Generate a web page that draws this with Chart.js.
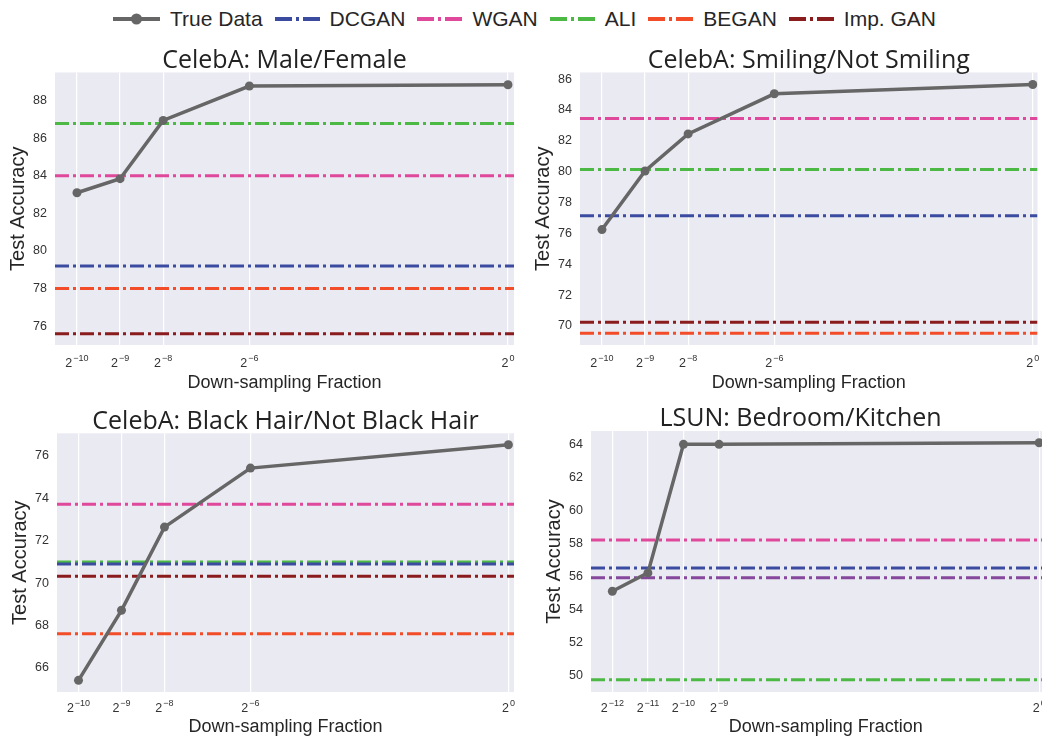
<!DOCTYPE html>
<html>
<head>
<meta charset="utf-8">
<script src="https://cdn.jsdelivr.net/npm/chart.js@4.4.1/dist/chart.umd.min.js"></script>
<style>
    body { margin: 0; width: 1042px; height: 736px; overflow: hidden; background: #fff; position: relative; font-family: 'Liberation Sans', Arial, sans-serif; }
    .panel { position: absolute; }
    #legend { position: absolute; left: 113px; top: 0; height: 38px; display: flex; align-items: center; font-size: 21px; color: #262626; white-space: nowrap; }
    #legend .item { display: flex; align-items: center; margin-right: 12px; }
    #legend svg { margin-right: 10px; }
</style>
</head>
<body>
<div id="legend"></div>
<div class="panel" style="left:0px;top:40px;width:520px;height:360px"><canvas id="chartMale"></canvas></div>
<div class="panel" style="left:525px;top:40px;width:517px;height:360px"><canvas id="chartSmiling"></canvas></div>
<div class="panel" style="left:2px;top:401px;width:518px;height:346px"><canvas id="chartHair"></canvas></div>
<div class="panel" style="left:536px;top:399px;width:529px;height:348px"><canvas id="chartBedroom"></canvas></div>
<script>
    // legend / method colours
    var methodNames = ['DCGAN', 'WGAN', 'ALI', 'BEGAN', 'Imp. GAN'];
    var methodColors = ['#3b4ca0', '#e0489b', '#4cb944', '#f24d28', '#8a1c1d'];
    var trueColor = '#666666';
    var otherColor = '#86489c';

    // CelebA: Male/Female  (x = log2 of the fraction)
    var maleX = [-10, -9, -8, -6, 0];
    var maleXExp = ['−10', '−9', '−8', '−6', '0'];
    var maleTrue = [83.1, 83.85, 86.95, 88.78, 88.85];
    var maleBase = [79.2, 84.0, 86.78, 78.0, 75.6];
    var maleYTicks = [76, 78, 80, 82, 84, 86, 88];

    // CelebA: Smiling/Not Smiling
    var smileX = [-10, -9, -8, -6, 0];
    var smileXExp = ['−10', '−9', '−8', '−6', '0'];
    var smileTrue = [76.25, 80.05, 82.45, 85.05, 85.65];
    var smileBase = [77.15, 83.45, 80.15, 69.53, 70.24];
    var smileYTicks = [70, 72, 74, 76, 78, 80, 82, 84, 86];

    // CelebA: Black Hair/Not Black Hair
    var hairX = [-10, -9, -8, -6, 0];
    var hairXExp = ['−10', '−9', '−8', '−6', '0'];
    var hairTrue = [65.42, 68.72, 72.64, 75.42, 76.52];
    var hairBase = [70.9, 73.72, 71.0, 67.62, 70.33];
    var hairYTicks = [66, 68, 70, 72, 74, 76];

    // LSUN: Bedroom/Kitchen
    var roomX = [-12, -11, -10, -9, 0];
    var roomXExp = ['−12', '−11', '−10', '−9', '0'];
    var roomTrue = [55.14, 56.25, 64.04, 64.04, 64.14];
    var roomBase = [56.54, 58.24, 49.78, null, null];
    var roomOther = [55.95];
    var roomYTicks = [50, 52, 54, 56, 58, 60, 62, 64];

    var panels = [
        { id: 'chartMale', title: 'CelebA: Male/Female', x: maleX, xExp: maleXExp, truth: maleTrue, base: maleBase, other: [],
          yTicks: maleYTicks, xMin: -10.51, xMax: 0.14, yMin: 75.0, yMax: 89.5,
          titlePad: { top: 10, bottom: 0 }, titleFull: false, padRight: 6, labelOffset: 21.7, xTitlePad: 6 },
        { id: 'chartSmiling', title: 'CelebA: Smiling/Not Smiling', x: smileX, xExp: smileXExp, truth: smileTrue, base: smileBase, other: [],
          yTicks: smileYTicks, xMin: -10.51, xMax: 0.11, yMin: 68.77, yMax: 86.43,
          titlePad: { top: 10, bottom: 0 }, titleFull: false, padRight: 4, labelOffset: 21.7, xTitlePad: 6 },
        { id: 'chartHair', title: 'CelebA: Black Hair/Not Black Hair', x: hairX, xExp: hairXExp, truth: hairTrue, base: hairBase, other: [],
          yTicks: hairYTicks, xMin: -10.5, xMax: 0.13, yMin: 64.87, yMax: 77.06,
          titlePad: { top: 9.3, bottom: 0.5 }, titleFull: false, padRight: 6, labelOffset: 20, xTitlePad: 9 },
        { id: 'chartBedroom', title: 'LSUN: Bedroom/Kitchen', x: roomX, xExp: roomXExp, truth: roomTrue, base: roomBase, other: roomOther,
          yTicks: roomYTicks, xMin: -12.6, xMax: 0.6, yMin: 49.03, yMax: 64.85,
          titlePad: { top: 8.3, bottom: 1.2 }, titleFull: true, padRight: 0, labelOffset: 20, xTitlePad: 9 }
    ];

    var plotBackground = {
        id: 'plotBackground',
        beforeDraw: function (chart) {
            var a = chart.chartArea;
            var ctx = chart.ctx;
            ctx.save();
            ctx.fillStyle = '#eaeaf2';
            ctx.fillRect(a.left, a.top, a.right - a.left, a.bottom - a.top);
            ctx.restore();
        }
    };

    // tick labels like 2^-10, drawn with a raised exponent at the x scale's tick pixels
    var powerLabels = {
        id: 'powerLabels',
        afterDraw: function (chart, args, opts) {
            var s = chart.scales.x;
            var ctx = chart.ctx;
            var baseFont = '12.5px "Liberation Sans", Arial, sans-serif';
            var supFont = '9px "Liberation Sans", Arial, sans-serif';
            var y = chart.chartArea.bottom + opts.offset;
            ctx.save();
            ctx.fillStyle = '#333333';
            ctx.textAlign = 'left';
            ctx.textBaseline = 'alphabetic';
            opts.values.forEach(function (v, i) {
                var px = s.getPixelForValue(v);
                ctx.font = baseFont;
                var wb = ctx.measureText('2').width;
                ctx.font = supFont;
                var we = ctx.measureText(opts.exps[i]).width;
                var x0 = px - (wb + we + 1) / 2;
                ctx.font = baseFont;
                ctx.fillText('2', x0, y);
                ctx.font = supFont;
                ctx.fillText(opts.exps[i], x0 + wb + 1, y - 6);
            });
            ctx.restore();
        }
    };

    var dashDot = [14, 4, 3, 4];

    buildLegend();
    panels.forEach(renderPanel);

    function buildLegend() {
        var box = document.getElementById('legend');
        var html = '<div class="item"><svg width="47" height="14"><line x1="0" y1="7" x2="47" y2="7" stroke="' + trueColor + '" stroke-width="4"/>' +
            '<circle cx="23.5" cy="7" r="5.5" fill="' + trueColor + '"/></svg>True Data</div>';
        methodNames.forEach(function (name, i) {
            html += '<div class="item"><svg width="45" height="14"><line x1="0" y1="7" x2="45" y2="7" stroke="' + methodColors[i] +
                '" stroke-width="4" stroke-dasharray="17 4 3 4"/></svg>' + name + '</div>';
        });
        box.innerHTML = html;
    }

    function flatLine(p, value) {
        return [{ x: p.xMin, y: value }, { x: p.xMax, y: value }];
    }

    function renderPanel(p) {
        var datasets = [{
            label: 'True Data',
            data: p.x.map(function (v, i) { return { x: v, y: p.truth[i] }; }),
            borderColor: trueColor,
            backgroundColor: trueColor,
            borderWidth: 3.5,
            pointRadius: 4.5,
            pointHoverRadius: 4.5,
            pointBorderWidth: 0,
            tension: 0
        }];
        p.base.forEach(function (v, i) {
            if (v === null) return;
            datasets.push({
                label: methodNames[i],
                data: flatLine(p, v),
                borderColor: methodColors[i],
                borderWidth: 3,
                borderDash: dashDot,
                pointRadius: 0
            });
        });
        p.other.forEach(function (v) {
            datasets.push({
                label: 'other',
                data: flatLine(p, v),
                borderColor: otherColor,
                borderWidth: 3,
                borderDash: dashDot,
                pointRadius: 0
            });
        });

        new Chart(document.getElementById(p.id), {
            type: 'line',
            data: { datasets: datasets },
            plugins: [plotBackground, powerLabels],
            options: {
                responsive: true,
                maintainAspectRatio: false,
                animation: false,
                layout: { padding: { left: 0, right: p.padRight, top: 0, bottom: 0 } },
                plugins: {
                    legend: { display: false },
                    tooltip: { enabled: false },
                    powerLabels: { values: p.x, exps: p.xExp, offset: p.labelOffset },
                    title: {
                        display: true,
                        text: p.title,
                        fullSize: p.titleFull,
                        color: '#222222',
                        font: { family: "'Open Sans', sans-serif", size: 25, weight: 'normal', lineHeight: 0.9 },
                        padding: p.titlePad
                    }
                },
                scales: {
                    x: {
                        type: 'linear',
                        min: p.xMin,
                        max: p.xMax,
                        afterBuildTicks: function (s) { s.ticks = p.x.map(function (v) { return { value: v }; }); },
                        afterFit: function (s) { s.height = 55; },
                        ticks: { display: false },
                        grid: { color: '#ffffff', lineWidth: 1.2, drawTicks: false },
                        border: { display: false },
                        title: {
                            display: true,
                            text: 'Down-sampling Fraction',
                            color: '#262626',
                            font: { family: "'Liberation Sans', Arial, sans-serif", size: 18 },
                            padding: { top: 0, bottom: p.xTitlePad }
                        }
                    },
                    y: {
                        min: p.yMin,
                        max: p.yMax,
                        afterBuildTicks: function (s) { s.ticks = p.yTicks.map(function (v) { return { value: v }; }); },
                        afterFit: function (s) { s.width = 55; },
                        ticks: {
                            padding: 8,
                            color: '#333333',
                            font: { family: "'Liberation Sans', Arial, sans-serif", size: 12.5 }
                        },
                        grid: { display: false, drawTicks: false },
                        border: { display: false },
                        title: {
                            display: true,
                            text: 'Test Accuracy',
                            color: '#262626',
                            font: { family: "'Liberation Sans', Arial, sans-serif", size: 20 },
                            padding: { top: 6, bottom: 0 }
                        }
                    }
                }
            }
        });
    }
</script>
</body>
</html>
